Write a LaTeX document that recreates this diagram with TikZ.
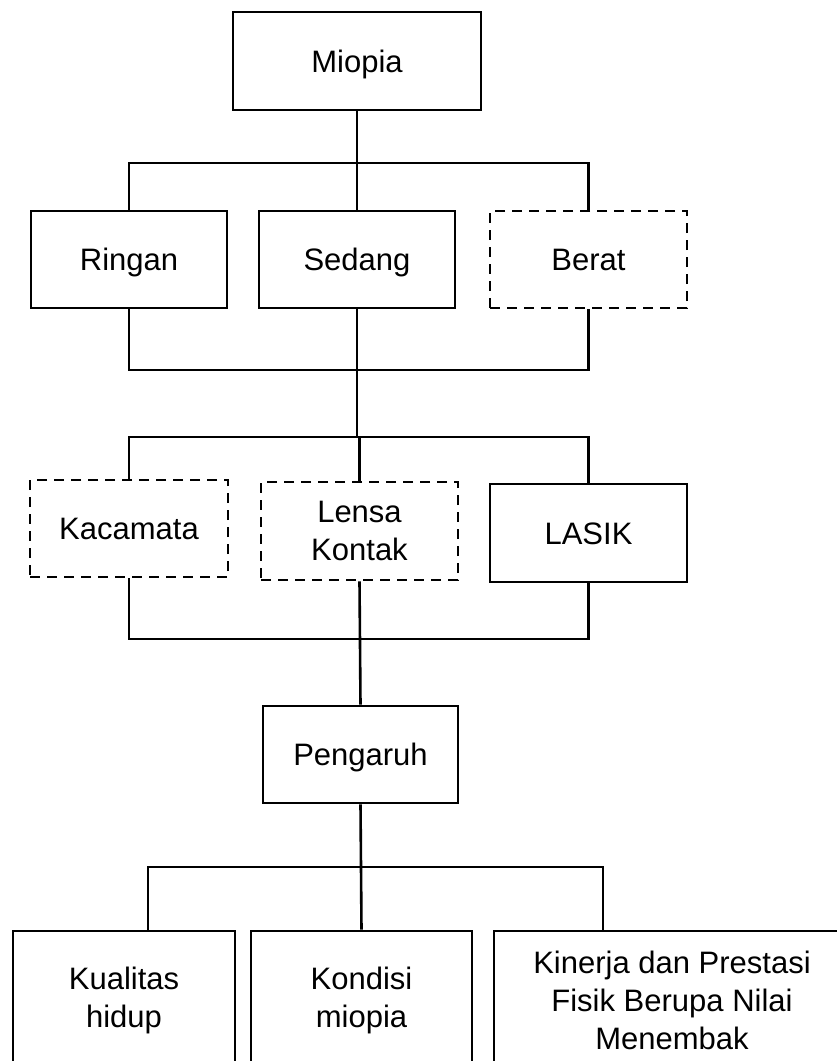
\documentclass[tikz,border=0pt]{standalone}
\usepackage{fontspec}
\setmainfont{Liberation Sans}
\begin{document}
\begin{tikzpicture}[x=1pt,y=-1pt,
  box/.style={draw, line width=2.6pt, inner sep=0pt, align=center,
    font=\fontsize{31}{38}\selectfont},
  dbox/.style={box, dash pattern=on 10pt off 7pt},
  oneline/.style={text height=22.2pt, text depth=0pt},
  link/.style={line width=2.6pt}]
\useasboundingbox (0,0) rectangle (837,1061);
\fill[white] (0,0) rectangle (837,1061);
\clip (0,0) rectangle (837,1061);

% level 0
\node[box, oneline, minimum width=248pt, minimum height=98pt] (miopia) at (357,61) {Miopia};
% level 1
\node[box, oneline, minimum width=196pt, minimum height=97pt] (ringan) at (129,259.5) {Ringan};
\node[box, oneline, minimum width=196pt, minimum height=97pt] (sedang) at (357,259.5) {Sedang};
\node[dbox, oneline, minimum width=197pt, minimum height=97pt] (berat) at (588.5,259.5) {Berat};
% level 2
\node[dbox, oneline, minimum width=198pt, minimum height=97pt] (kacamata) at (129,528.5) {Kacamata};
\node[dbox, minimum width=197pt, minimum height=98pt] (lensa) at (359.5,531) {Lensa\\Kontak};
\node[box, oneline, minimum width=197pt, minimum height=98pt] (lasik) at (588.5,533) {LASIK};
% level 3
\node[box, oneline, minimum width=195pt, minimum height=97pt] (pengaruh) at (360.5,754.5) {Pengaruh};
% level 4
\node[box, minimum width=222pt, minimum height=138pt] (kualitas) at (124,1000) {Kualitas\\hidup};
\node[box, minimum width=221pt, minimum height=138pt] (kondisi) at (361.5,1000) {Kondisi\\miopia};
\node[box, minimum width=356pt, minimum height=138pt] (kinerja) at (672,1000) {Kinerja dan Prestasi\\Fisik Berupa Nilai\\Menembak};

% bus coordinates
\coordinate (b1) at (357,163);
\coordinate (b2) at (358,370);
\coordinate (b3) at (358,437);
\coordinate (b4) at (361,639);
\coordinate (b5) at (361,867);

% connectors
\draw[link] (miopia.south) -- (sedang.north);
\draw[link] (ringan.north) |- (b1) -| (berat.north);
\draw[link] (ringan.south) |- (b2) -| (berat.south);
\draw[link] (sedang.south) -- (sedang.south |- b3);
\draw[link] (kacamata.north) |- (b3) -| (lasik.north);
\draw[link] (lensa.north) -- (lensa.north |- b3);
\draw[link] (kacamata.south) |- (b4) -| (lasik.south);
\draw[link] (lensa.south) -- (pengaruh.north);
\draw[link] (pengaruh.south) -- (kondisi.north);
\draw[link] ([xshift=24pt]kualitas.north) |- (b5) -| ([xshift=-69pt]kinerja.north);
\end{tikzpicture}
\end{document}
